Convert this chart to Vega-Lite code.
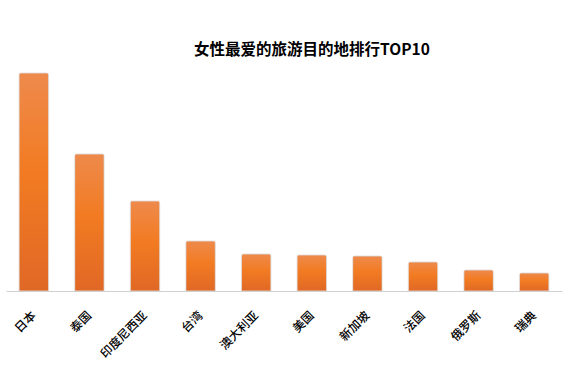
{
  "$schema": "https://vega.github.io/schema/vega-lite/v6.json",
  "width": 556,
  "height": 218,
  "autosize": "none",
  "padding": {"left": 6, "top": 73, "right": 6, "bottom": 78},
  "background": "white",
  "title": {
    "text": "女性最爱的旅游目的地排行TOP10",
    "font": "Noto Sans CJK SC",
    "fontSize": 15.5,
    "fontWeight": "bold",
    "color": "#000000",
    "anchor": "middle",
    "dx": 28,
    "offset": 14
  },
  "data": {
    "values": [
      {"dest": "日本", "value": 218},
      {"dest": "泰国", "value": 137},
      {"dest": "印度尼西亚", "value": 90},
      {"dest": "台湾", "value": 50},
      {"dest": "澳大利亚", "value": 37},
      {"dest": "美国", "value": 36},
      {"dest": "新加坡", "value": 35},
      {"dest": "法国", "value": 29},
      {"dest": "俄罗斯", "value": 21},
      {"dest": "瑞典", "value": 18}
    ]
  },
  "mark": {
    "type": "bar",
    "cornerRadiusTopLeft": 2,
    "cornerRadiusTopRight": 2,
    "stroke": "#d8cfc8",
    "strokeWidth": 0.6,
    "color": {
      "gradient": "linear",
      "x1": 0, "y1": 0, "x2": 0, "y2": 1,
      "stops": [
        {"offset": 0, "color": "#EE8A4C"},
        {"offset": 0.45, "color": "#F27B22"},
        {"offset": 1, "color": "#E06826"}
      ]
    }
  },
  "encoding": {
    "x": {
      "field": "dest",
      "type": "nominal",
      "sort": null,
      "scale": {"paddingInner": 0.47, "paddingOuter": 0.235},
      "axis": {
        "title": null,
        "labelAngle": -45,
        "labelAlign": "right",
        "labelBaseline": "middle",
        "labelPadding": 22,
        "labelFont": "Noto Sans CJK SC",
        "labelFontSize": 12,
        "labelFontWeight": 500,
        "labelColor": "#000000",
        "ticks": false,
        "domainColor": "#d0d0d0",
        "domainWidth": 1.2,
        "grid": false
      }
    },
    "y": {
      "field": "value",
      "type": "quantitative",
      "scale": {"domain": [0, 218], "nice": false},
      "axis": null
    }
  },
  "config": {"view": {"stroke": null}}
}
